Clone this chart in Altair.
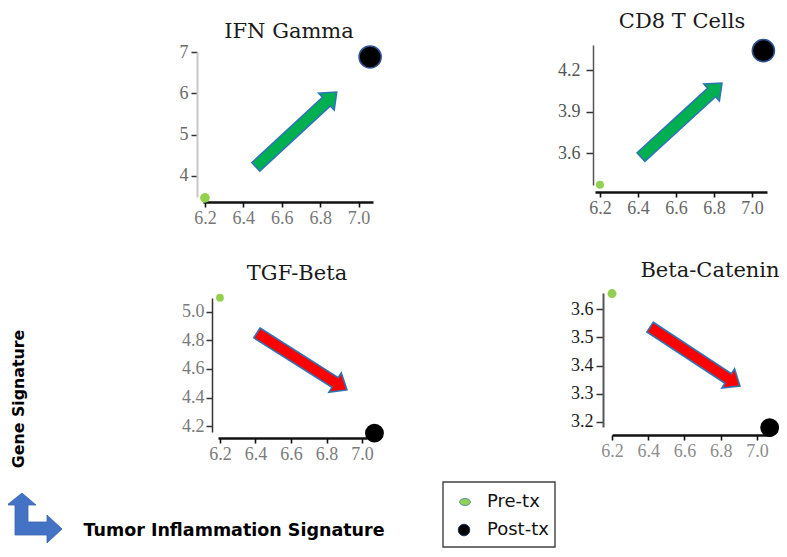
import math
import altair as alt
import pandas as pd

# ---------------- data ----------------
panels = ["IFN Gamma", "CD8 T Cells", "TGF-Beta", "Beta-Catenin"]
pre_tis = [6.2, 6.2, 6.2, 6.2]
post_tis = [7.06, 7.06, 7.07, 7.07]
pre_gene = [3.47, 3.37, 5.10, 3.655]
post_gene = [6.88, 4.34, 4.15, 3.18]
arrow_tail_x = [6.465, 6.416, 6.408, 6.41]
arrow_tail_y = [4.22, 3.571, 4.853, 3.536]
arrow_head_x = [6.886, 6.842, 6.915, 6.906]
arrow_head_y = [6.03, 4.106, 4.453, 3.327]
x_ticks = [6.2, 6.4, 6.6, 6.8, 7.0]
y_ticks = [[4, 5, 6, 7], [3.6, 3.9, 4.2], [4.2, 4.4, 4.6, 4.8, 5.0], [3.2, 3.3, 3.4, 3.5, 3.6]]
legend_labels = ["Pre-tx", "Post-tx"]
x_axis_label = "Tumor Inflammation Signature"
y_axis_label = "Gene Signature"

# ---------------- layout / style ----------------
W, H = 771, 541
cfg = [
    dict(xdom=[6.19, 7.075], xr=[195, 365], ydom=[3.49, 7.0], yr=[189, 44], yax=189, xax=194,
         yfmt="d", ylab="#6a6a6a", ydc="#c8c8c8", ydw=2, ytick=6, ypad=3, xlab="#777777",
         pre=95, post=490, pstroke="#2f5597", tx=281, ty=30),
    dict(xdom=[6.174, 7.079], xr=[587, 759], ydom=[3.369, 4.381], yr=[177, 37], yax=585, xax=184,
         yfmt=".1f", ylab="#555555", ydc="#555555", ydw=1.5, ytick=7, ypad=6, xlab="#666666",
         pre=64, post=490, pstroke="#2f5597", tx=674, ty=20),
    dict(xdom=[6.189, 7.028], xr=[210, 359], ydom=[4.158, 5.098], yr=[424, 290], yax=204, xax=430,
         yfmt=".1f", ylab="#7a7a7a", ydc="#333333", ydw=1.5, ytick=6, ypad=2, xlab="#7a7a7a",
         pre=60, post=300, pstroke="#000000", tx=289, ty=272),
    dict(xdom=[6.2, 7.083], xr=[604, 764], ydom=[3.182, 3.657], yr=[419, 285], yax=595, xax=427,
         yfmt=".1f", ylab="#1a1a1a", ydc="#555555", ydw=2, ytick=7, ypad=3, xlab="#8c8c8c",
         pre=80, post=300, pstroke="#000000", tx=702, ty=269),
]

SERIF = "DejaVu Serif"
TICKFONT = "Liberation Serif"
SANS = "DejaVu Sans"


def to_px(v, dom, rng):
    return rng[0] + (v - dom[0]) / (dom[1] - dom[0]) * (rng[1] - rng[0])


def arrow_path(length, hw=5.8, hh=11.5, hl=14.0):
    k = 2.0 / length
    b = 1 - hl * k
    pts = [(-1, -hw * k), (b, -hw * k), (b, -hh * k), (1, 0), (b, hh * k), (b, hw * k), (-1, hw * k)]
    return "M" + " L".join(f"{x:.4f},{y:.4f}" for x, y in pts) + " Z"


one = pd.DataFrame({"k": [0]})
layers = []

for i, c in enumerate(cfg):
    xs = alt.Scale(domain=c["xdom"], range=c["xr"], nice=False, zero=False)
    ys = alt.Scale(domain=c["ydom"], range=c["yr"], nice=False, zero=False)
    xaxis = alt.Axis(orient="bottom", offset=c["xax"] - H, values=x_ticks, format=".1f", title=None,
                     grid=False, labelFont=TICKFONT, labelFontSize=18, labelColor=c["xlab"],
                     labelFlush=False, labelOverlap=False,
                     domainColor="#111111", domainWidth=2.6, tickColor="#111111", tickWidth=1.6,
                     tickSize=5, labelPadding=2)
    yaxis = alt.Axis(orient="left", offset=-c["yax"], values=y_ticks[i], format=c["yfmt"], title=None,
                     grid=False, labelFont=TICKFONT, labelFontSize=18, labelColor=c["ylab"],
                     labelFlush=False, labelOverlap=False,
                     domainColor=c["ydc"], domainWidth=c["ydw"], tickColor="#333333", tickWidth=1.5,
                     tickSize=c["ytick"], labelPadding=c["ypad"])

    pre_df = pd.DataFrame({"tis": [pre_tis[i]], "gene": [pre_gene[i]], "stage": [legend_labels[0]]})
    post_df = pd.DataFrame({"tis": [post_tis[i]], "gene": [post_gene[i]], "stage": [legend_labels[1]]})

    layers.append(
        alt.Chart(pre_df).mark_circle(color="#92d050", opacity=1, size=c["pre"]).encode(
            x=alt.X("tis:Q", scale=xs, axis=xaxis),
            y=alt.Y("gene:Q", scale=ys, axis=yaxis),
        )
    )
    layers.append(
        alt.Chart(post_df).mark_circle(color="#000000", opacity=1, size=c["post"],
                                       stroke=c["pstroke"], strokeWidth=1.5).encode(
            x=alt.X("tis:Q", scale=xs, axis=None),
            y=alt.Y("gene:Q", scale=ys, axis=None),
        )
    )

    # block arrow, centred between tail and head
    tx, ty = to_px(arrow_tail_x[i], c["xdom"], c["xr"]), to_px(arrow_tail_y[i], c["ydom"], c["yr"])
    hx, hy = to_px(arrow_head_x[i], c["xdom"], c["xr"]), to_px(arrow_head_y[i], c["ydom"], c["yr"])
    L = math.hypot(hx - tx, hy - ty)
    ang = math.degrees(math.atan2(hy - ty, hx - tx)) % 360
    up = arrow_head_y[i] > arrow_tail_y[i]
    arr_df = pd.DataFrame({"tis": [(arrow_tail_x[i] + arrow_head_x[i]) / 2],
                           "gene": [(arrow_tail_y[i] + arrow_head_y[i]) / 2]})
    layers.append(
        alt.Chart(arr_df).mark_point(shape=arrow_path(L), filled=True, opacity=1,
                                     fill="#00b050" if up else "#ff0000",
                                     stroke="#2e75b6", strokeWidth=1.6,
                                     size=L * L, angle=ang).encode(
            x=alt.X("tis:Q", scale=xs, axis=None),
            y=alt.Y("gene:Q", scale=ys, axis=None),
        )
    )

    layers.append(
        alt.Chart(one).mark_text(text=panels[i], font=SERIF, fontSize=21, color="#1a1a1a",
                                 align="center", baseline="alphabetic").encode(
            x=alt.value(c["tx"]), y=alt.value(c["ty"]))
    )

# axis-direction labels
layers.append(
    alt.Chart(one).mark_text(text=y_axis_label, font=SANS, fontWeight="bold", fontSize=15.8,
                             color="#000000", angle=270, align="center", baseline="middle").encode(
        x=alt.value(11), y=alt.value(391))
)
layers.append(
    alt.Chart(one).mark_text(text=x_axis_label, font=SANS, fontWeight="bold", fontSize=17.5,
                             color="#000000", align="center", baseline="alphabetic").encode(
        x=alt.value(226), y=alt.value(528))
)

# blue L-shaped direction arrow
L_ARROW = ("M-0.417,-0.833 L0.05,-0.433 L-0.217,-0.433 L-0.217,0.133 L0.417,0.133 L0.417,-0.1 "
           "L0.917,0.367 L0.417,0.833 L0.417,0.567 L-0.65,0.567 L-0.65,-0.433 L-0.917,-0.433 Z")
layers.append(
    alt.Chart(one).mark_point(shape=L_ARROW, filled=True, opacity=1, fill="#4472c4",
                              stroke="#3a64b0", strokeWidth=0.8, size=3600).encode(
        x=alt.value(26.5), y=alt.value(510))
)

# legend box
layers.append(
    alt.Chart(one).mark_rect(fill="#ffffff", stroke="#404040", strokeWidth=1.4).encode(
        x=alt.value(435), x2=alt.value(547), y=alt.value(474), y2=alt.value(539))
)
ELLIPSE = ("M-1,0 C-1,-0.35 -0.55,-0.64 0,-0.64 C0.55,-0.64 1,-0.35 1,0 "
           "C1,0.35 0.55,0.64 0,0.64 C-0.55,0.64 -1,0.35 -1,0 Z")
layers.append(
    alt.Chart(one).mark_point(shape=ELLIPSE, filled=True, opacity=1, fill="#92d050",
                              stroke="#4a7ebb", strokeWidth=0.8, size=121).encode(
        x=alt.value(457), y=alt.value(494))
)
layers.append(
    alt.Chart(one).mark_circle(color="#000000", opacity=1, size=135, stroke="#1f3864",
                               strokeWidth=1).encode(x=alt.value(456), y=alt.value(522))
)
for lab, yy in zip(legend_labels, [494, 522]):
    layers.append(
        alt.Chart(one).mark_text(text=lab, font=SANS, fontSize=18, color="#111111",
                                 align="left", baseline="middle").encode(
            x=alt.value(479), y=alt.value(yy))
    )

chart = (
    alt.layer(*layers)
    .resolve_scale(x="independent", y="independent")
    .resolve_axis(x="independent", y="independent")
    .properties(width=W, height=H, padding=0, autosize=alt.AutoSizeParams(type="none"),
                background="#ffffff")
    .configure_view(stroke=None)
)

chart.save("out.html", embed_options={"renderer": "svg", "actions": False})
